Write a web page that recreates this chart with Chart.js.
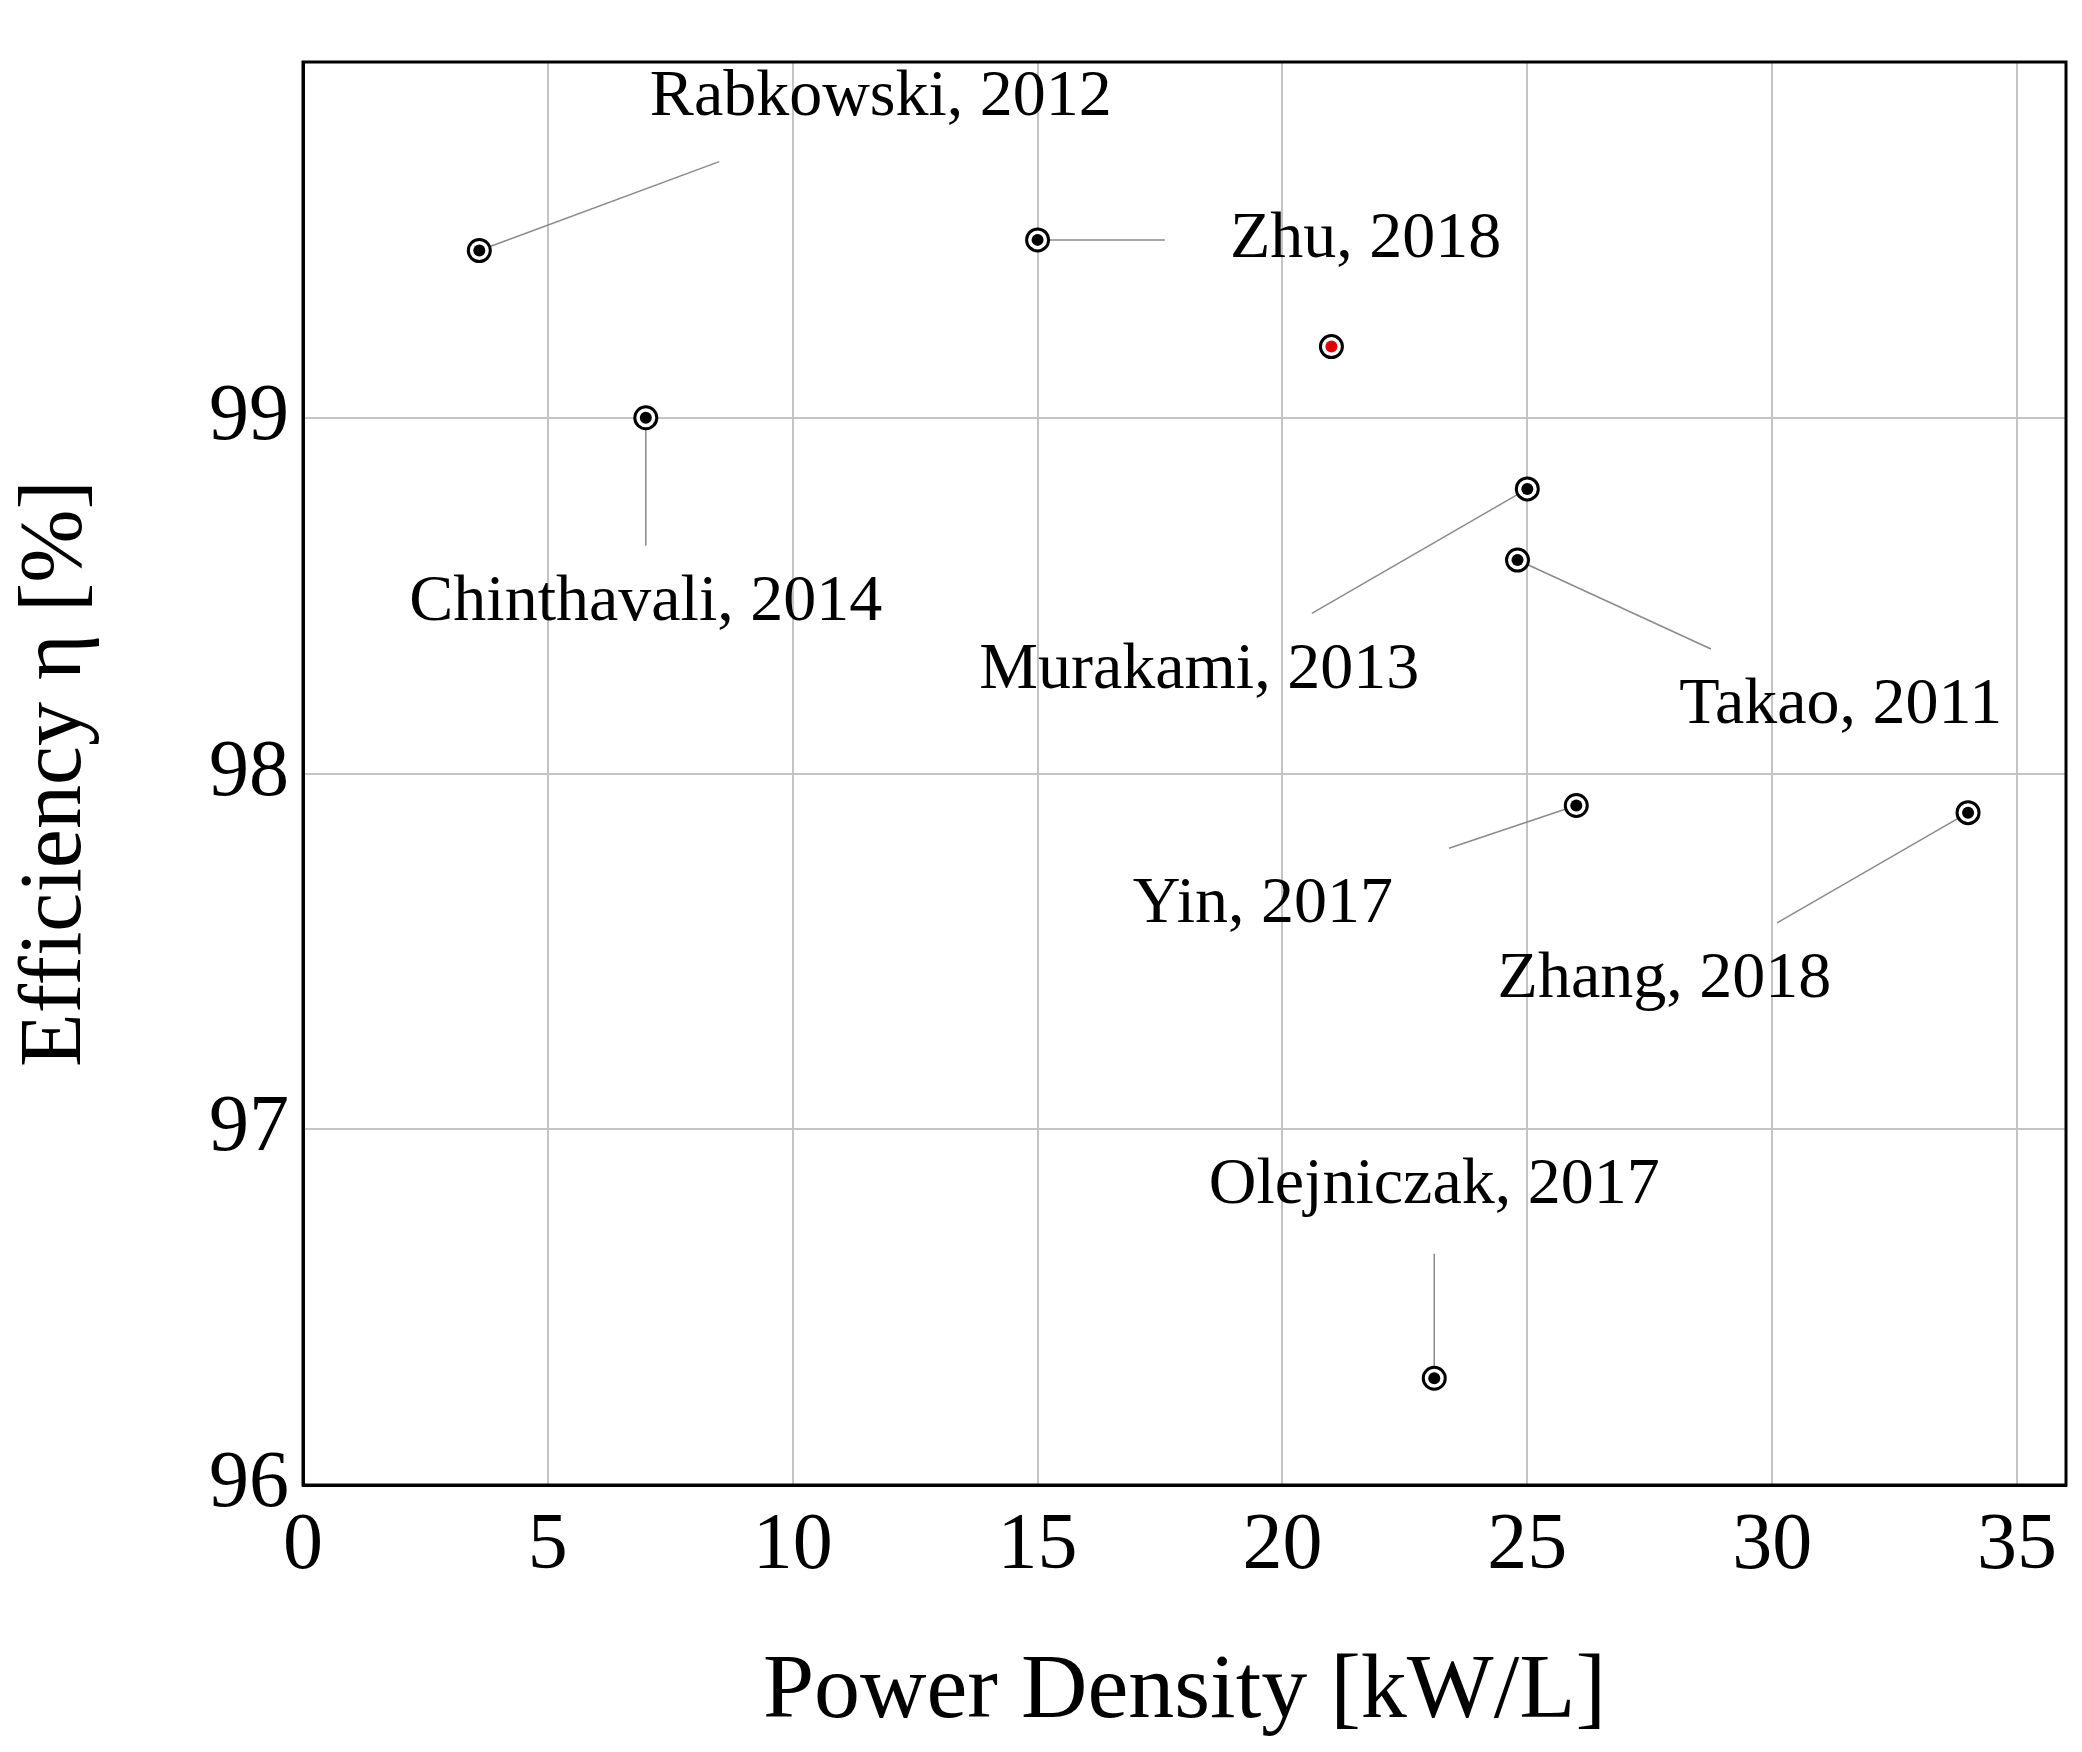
<!DOCTYPE html>
<html>
<head>
<meta charset="utf-8">
<script src="https://cdn.jsdelivr.net/npm/chart.js@4"></script>
<style>
  html, body { margin: 0; padding: 0; background: #fff; }
  #wrap { width: 2082px; height: 1752px; }
</style>
</head>
<body>
<div id="wrap"><canvas id="chart"></canvas></div>
<script>
// data
const names = ['Rabkowski, 2012', 'Zhu, 2018', '', 'Chinthavali, 2014', 'Murakami, 2013',
  'Takao, 2011', 'Yin, 2017', 'Zhang, 2018', 'Olejniczak, 2017']
const powerDensity = [3.6, 15.0, 21.0, 7.0, 25.0, 24.8, 26.0, 34.0, 23.1]
const efficiency = [99.47, 99.50, 99.20, 99.00, 98.80, 98.60, 97.91, 97.89, 96.30]
const highlight = [false, false, true, false, false, false, false, false, false]
// leader line end and label centre, in data units
const lineEndX = [8.5, 17.6, null, 7.0, 20.6, 28.75, 23.4, 30.1, 23.1]
const lineEndY = [99.72, 99.50, null, 98.64, 98.45, 98.35, 97.79, 97.58, 96.65]
const labelX = [11.8, 21.7, null, 7.0, 18.3, 31.4, 19.6, 27.8, 23.1]
const labelY = [99.90, 99.50, null, 98.48, 98.29, 98.19, 97.63, 97.42, 96.84]
const xTicks = [0, 5, 10, 15, 20, 25, 30, 35]
const yTicks = [96, 97, 98, 99]

const fontFamily = '"Liberation Serif", "DejaVu Serif", serif'

const points = powerDensity.map((x, i) => ({ x, y: efficiency[i] }))

const labelPlugin = {
  id: 'labels',
  beforeDatasetsDraw (chart) {
    const { ctx, scales: { x, y } } = chart
    ctx.save()
    ctx.strokeStyle = '#8a8a8a'
    ctx.lineWidth = 1.5
    names.forEach((name, i) => {
      if (lineEndX[i] === null) return
      ctx.beginPath()
      ctx.moveTo(x.getPixelForValue(powerDensity[i]), y.getPixelForValue(efficiency[i]))
      ctx.lineTo(x.getPixelForValue(lineEndX[i]), y.getPixelForValue(lineEndY[i]))
      ctx.stroke()
    })
    ctx.restore()
  },
  afterDatasetsDraw (chart) {
    const { ctx, chartArea: a } = chart
    const { x, y } = chart.scales
    ctx.save()
    ctx.strokeStyle = '#000'
    ctx.lineWidth = 3
    ctx.strokeRect(a.left, a.top, a.right - a.left, a.bottom - a.top)
    ctx.fillStyle = '#000'
    ctx.font = '66px ' + fontFamily
    ctx.textAlign = 'center'
    ctx.textBaseline = 'middle'
    names.forEach((name, i) => {
      if (!name) return
      ctx.fillText(name, x.getPixelForValue(labelX[i]), y.getPixelForValue(labelY[i]))
    })
    ctx.restore()
  }
}

new Chart(document.getElementById('chart'), {
  type: 'scatter',
  data: {
    datasets: [
      {
        data: points,
        order: 2,
        pointRadius: 11,
        pointBackgroundColor: '#fff',
        pointBorderColor: '#000',
        pointBorderWidth: 3
      },
      {
        data: points,
        order: 1,
        pointRadius: 6,
        pointBackgroundColor: highlight.map(h => h ? '#e00000' : '#000'),
        pointBorderColor: highlight.map(h => h ? '#e00000' : '#000'),
        pointBorderWidth: 0
      }
    ]
  },
  options: {
    responsive: true,
    maintainAspectRatio: false,
    animation: false,
    layout: { padding: { top: 20, right: 16 } },
    plugins: { legend: { display: false }, tooltip: { enabled: false } },
    scales: {
      x: {
        min: 0,
        max: 36,
        afterFit: (s) => { s.height = 267 },
        afterBuildTicks: (s) => { s.ticks = xTicks.map(v => ({ value: v })) },
        grid: { color: '#c4c4c4', lineWidth: 2, drawTicks: false },
        border: { color: '#000', width: 3 },
        ticks: {
          color: '#000',
          padding: 14,
          font: { family: fontFamily, size: 80 }
        },
        title: {
          display: true,
          text: 'Power Density [kW/L]',
          color: '#000',
          padding: { top: 40 },
          font: { family: fontFamily, size: 92 }
        }
      },
      y: {
        min: 96,
        max: 100,
        afterFit: (s) => { s.width = 303 },
        afterBuildTicks: (s) => { s.ticks = yTicks.map(v => ({ value: v })) },
        grid: { color: '#c4c4c4', lineWidth: 2, drawTicks: false },
        border: { color: '#000', width: 3 },
        ticks: {
          color: '#000',
          padding: 14,
          font: { family: fontFamily, size: 80 }
        },
        title: {
          display: true,
          text: 'Efficiency η [%]',
          color: '#000',
          padding: { bottom: 10 },
          font: { family: fontFamily, size: 88 }
        }
      }
    }
  },
  plugins: [labelPlugin]
})
</script>
</body>
</html>
